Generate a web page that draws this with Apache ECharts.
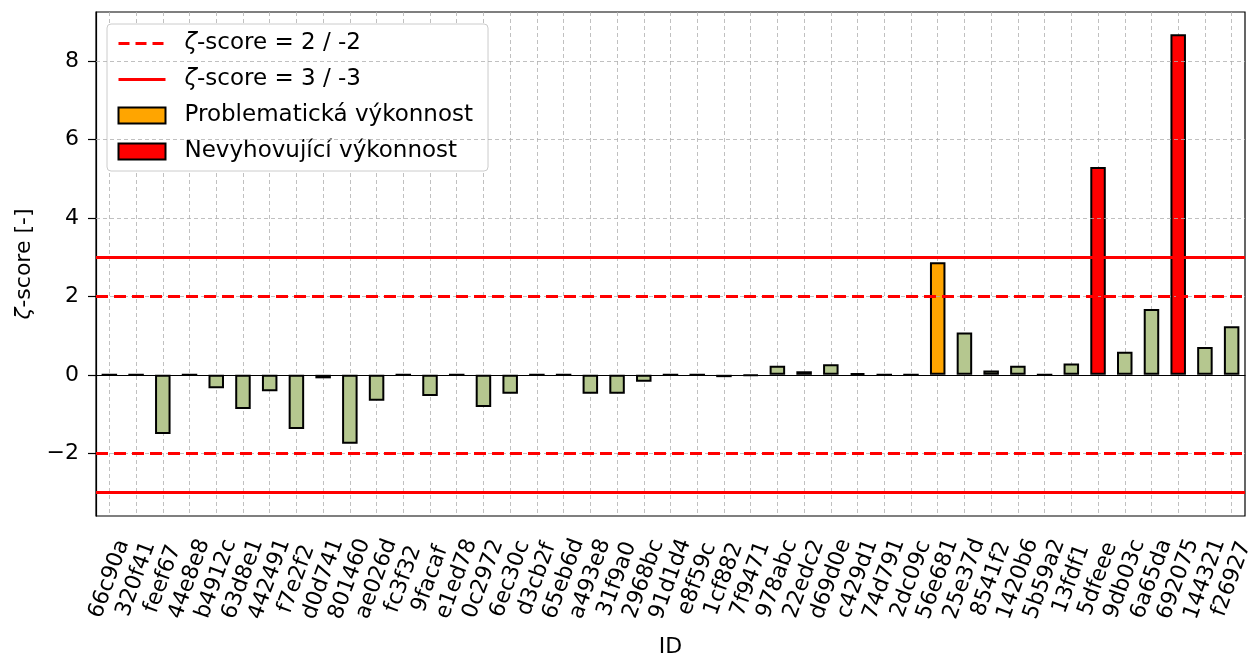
<!DOCTYPE html>
<html lang="cs">
<head>
    <meta charset="UTF-8">
    <title>z-score</title>
    <script src="https://cdn.jsdelivr.net/npm/echarts@6.0.0/dist/echarts.min.js"></script>
    <style>
        html, body { margin: 0; padding: 0; background: #fff; }
        #chart { width: 1250px; height: 657px; }
    </style>
</head>
<body>
    <div id="chart"></div>
    <script>
        // ID laboratoří a jejich z-score
        var ids = ['66c90a', '320f41', 'feef67', '44e8e8', 'b4912c', '63d8e1', '442491', 'f7e2f2', 'd0d741', '801460',
            'ae026d', 'fc3f32', '9facaf', 'e1ed78', '0c2972', '6ec30c', 'd3cb2f', '65eb6d', 'a493e8', '31f9a0',
            '2968bc', '91d1d4', 'e8f59c', '1cf882', '7f9471', '978abc', '22edc2', 'd69d0e', 'c429d1', '74d791',
            '2dc09c', '56e681', '25e37d', '8541f2', '1420b6', '5b59a2', '13fdf1', '5dfeee', '9db03c', '6a65da',
            '692075', '144321', 'f26927'];
        var zScores = [0, 0, -1.51, 0, -0.34, -0.87, -0.42, -1.38, -0.09, -1.76,
            -0.66, 0, -0.54, 0, -0.82, -0.48, 0, 0, -0.48, -0.48,
            -0.18, 0, 0, -0.06, -0.02, 0.23, 0.09, 0.27, 0.04, 0,
            0, 2.87, 1.08, 0.11, 0.23, 0, 0.29, 5.30, 0.59, 1.68,
            8.68, 0.71, 1.24];
        var yTicks = [-2, 0, 2, 4, 6, 8];
        var warnLimit = 2;
        var actionLimit = 3;

        // rozdělení do tří řad podle velikosti z-score
        var okData = zScores.map(function (z) { return Math.abs(z) < warnLimit ? z : null; });
        var warnData = zScores.map(function (z) { return Math.abs(z) >= warnLimit && Math.abs(z) < actionLimit ? z : null; });
        var badData = zScores.map(function (z) { return Math.abs(z) >= actionLimit ? z : null; });

        var font = 'DejaVu Sans';
        var fs = 22;
        var lfs = 23;
        var chart = echarts.init(document.getElementById('chart'));

        var barBorder = { borderColor: '#000', borderWidth: 2 };
        var italic = { i: { fontStyle: 'italic', fontSize: fs, fontFamily: font, color: '#000' } };
        var italicLegend = { i: { fontStyle: 'italic', fontSize: lfs, fontFamily: font, color: '#000' } };

        var option = {
            animation: false,
            textStyle: { fontFamily: font },
            grid: {
                left: 96, right: 5, top: 12, bottom: 141,
                outerBoundsMode: 'none',
                containLabel: false,
                show: true, borderColor: '#000', borderWidth: 1.2, backgroundColor: '#fff'
            },
            legend: {
                orient: 'vertical',
                left: 107, top: 24,
                padding: [8, 15, 8, 10],
                itemGap: 13,
                itemWidth: 47, itemHeight: 16,
                backgroundColor: '#fff',
                borderColor: '#cccccc', borderWidth: 1, borderRadius: 4,
                textStyle: { fontFamily: font, fontSize: lfs, lineHeight: 23, color: '#000', padding: [0, 0, 0, 14], rich: italicLegend },
                data: [
                    { name: 'ζ-score = 2 / -2', itemStyle: { opacity: 0 }, lineStyle: { width: 3, type: [11, 6] } },
                    { name: 'ζ-score = 3 / -3', itemStyle: { opacity: 0 }, lineStyle: { width: 3 } },
                    { name: 'Problematická výkonnost', icon: 'rect', itemStyle: { color: '#ffa500', borderColor: '#000', borderWidth: 2 } },
                    { name: 'Nevyhovující výkonnost', icon: 'rect', itemStyle: { color: '#ff0000', borderColor: '#000', borderWidth: 2 } }
                ],
                formatter: function (name) {
                    if (name.charAt(0) === 'ζ') return '{i|ζ}' + name.slice(1);
                    return name;
                }
            },
            xAxis: {
                type: 'category',
                data: ids,
                name: 'ID',
                nameLocation: 'middle',
                nameGap: 120,
                nameTextStyle: { fontSize: fs, color: '#000' },
                axisLine: { lineStyle: { color: '#000', width: 1.2 } },
                axisTick: { alignWithLabel: true, length: 8, lineStyle: { color: '#000', width: 1.2 } },
                axisLabel: {
                    interval: 0, rotate: 70, fontSize: fs, color: '#000',
                    align: 'center', verticalAlign: 'middle', margin: 63
                },
                splitLine: { show: true, alignWithLabel: true, lineStyle: { color: '#b0b0b0', type: [4, 3], width: 0.8 } }
            },
            yAxis: {
                type: 'value',
                min: -3.6,
                max: 9.25,
                name: '{i|ζ}-score [-]',
                nameLocation: 'middle',
                nameRotate: 90,
                nameGap: 55,
                nameTextStyle: { fontSize: fs, color: '#000', rich: italic },
                axisLine: { show: true, lineStyle: { color: '#000', width: 1.2 } },
                axisTick: { show: true, length: 8, customValues: yTicks, lineStyle: { color: '#000', width: 1.2 } },
                axisLabel: {
                    fontSize: fs, color: '#000', margin: 17, customValues: yTicks,
                    formatter: function (v) { return String(v).replace('-', '\u2212'); }
                },
                splitLine: { show: false }
            },
            series: [
                {
                    // vodorovná mřížka a nulová čára
                    name: 'grid',
                    type: 'line',
                    data: [],
                    z: 0,
                    silent: true,
                    markLine: {
                        symbol: 'none', silent: true, animation: false,
                        label: { show: false },
                        lineStyle: { color: '#b0b0b0', type: [4, 3], width: 0.8 },
                        data: yTicks.map(function (t) { return { yAxis: t }; }).concat([
                            { yAxis: 0, lineStyle: { color: '#000', type: 'solid', width: 1.2 } }
                        ])
                    }
                },
                {
                    name: 'ζ-score = 2 / -2',
                    type: 'line',
                    data: [],
                    symbol: 'none',
                    z: 1,
                    itemStyle: { color: '#ff0000' },
                    lineStyle: { color: '#ff0000', type: [12, 6], width: 3 },
                    markLine: {
                        symbol: 'none', silent: true, animation: false,
                        label: { show: false },
                        lineStyle: { color: '#ff0000', type: [12, 6], width: 3 },
                        data: [{ yAxis: warnLimit }, { yAxis: -warnLimit }]
                    }
                },
                {
                    name: 'ζ-score = 3 / -3',
                    type: 'line',
                    data: [],
                    symbol: 'none',
                    z: 1,
                    itemStyle: { color: '#ff0000' },
                    lineStyle: { color: '#ff0000', type: 'solid', width: 3 },
                    markLine: {
                        symbol: 'none', silent: true, animation: false,
                        label: { show: false },
                        lineStyle: { color: '#ff0000', type: 'solid', width: 3 },
                        data: [{ yAxis: actionLimit }, { yAxis: -actionLimit }]
                    }
                },
                {
                    name: 'OK',
                    type: 'bar',
                    stack: 'z',
                    barWidth: '58%',
                    z: 3,
                    itemStyle: Object.assign({ color: '#b5c78f' }, barBorder),
                    data: okData
                },
                {
                    name: 'Problematická výkonnost',
                    type: 'bar',
                    stack: 'z',
                    barWidth: '58%',
                    z: 3,
                    itemStyle: Object.assign({ color: '#ffa500' }, barBorder),
                    data: warnData
                },
                {
                    name: 'Nevyhovující výkonnost',
                    type: 'bar',
                    stack: 'z',
                    barWidth: '58%',
                    z: 3,
                    itemStyle: Object.assign({ color: '#ff0000' }, barBorder),
                    data: badData
                }
            ]
        };

        chart.setOption(option);
    </script>
</body>
</html>
